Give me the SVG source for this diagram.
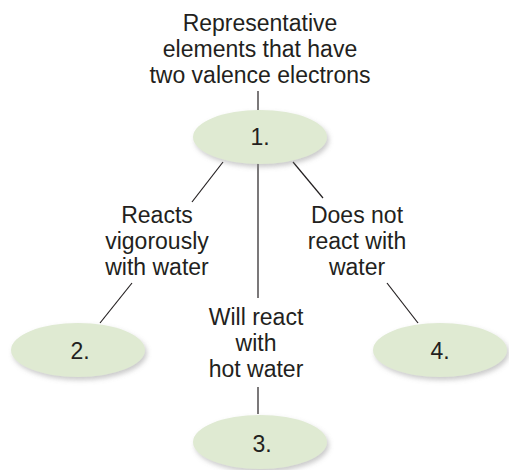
<svg xmlns="http://www.w3.org/2000/svg" width="509" height="470" viewBox="0 0 509 470">
<defs>
<filter id="sh" x="-20%" y="-30%" width="140%" height="170%">
<feDropShadow dx="2" dy="3" stdDeviation="2.5" flood-color="#8a8a8a" flood-opacity="0.45"/>
</filter>
</defs>
<style>
text{font-family:"Liberation Sans",Arial,sans-serif;font-size:23px;fill:#231f20;text-anchor:middle}
.node ellipse{fill:#dfead2;filter:url(#sh)}
.conn line{stroke:#231f20;stroke-width:1.2}
</style>
<rect width="509" height="470" fill="#ffffff"/>
<g id="title">
<text x="260" y="31">Representative</text>
<text x="260" y="57">elements that have</text>
<text x="260" y="83">two valence electrons</text>
</g>
<g class="conn" id="connectors">
<line x1="258" y1="91" x2="258" y2="110"/>
<line x1="223" y1="162" x2="192" y2="202"/>
<line x1="258" y1="163" x2="258" y2="298"/>
<line x1="293" y1="162" x2="323" y2="198"/>
<line x1="132" y1="283" x2="100" y2="323"/>
<line x1="387" y1="283" x2="418" y2="323"/>
<line x1="258" y1="387" x2="258" y2="414"/>
</g>
<g class="node" id="n1"><ellipse cx="260" cy="137" rx="67" ry="27"/><text x="260" y="145">1.</text></g>
<g class="node" id="n2"><ellipse cx="78" cy="350" rx="67" ry="27"/><text x="80" y="359">2.</text></g>
<g class="node" id="n3"><ellipse cx="260" cy="442" rx="67" ry="27"/><text x="262" y="452">3.</text></g>
<g class="node" id="n4"><ellipse cx="440" cy="350" rx="67" ry="27"/><text x="440" y="359">4.</text></g>
<g id="lbl-left">
<text x="157" y="223">Reacts</text>
<text x="157" y="249">vigorously</text>
<text x="157" y="275">with water</text>
</g>
<g id="lbl-right">
<text x="357" y="223">Does not</text>
<text x="357" y="249">react with</text>
<text x="357" y="275">water</text>
</g>
<g id="lbl-mid">
<text x="256" y="325">Will react</text>
<text x="256" y="351">with</text>
<text x="256" y="377">hot water</text>
</g>
</svg>
